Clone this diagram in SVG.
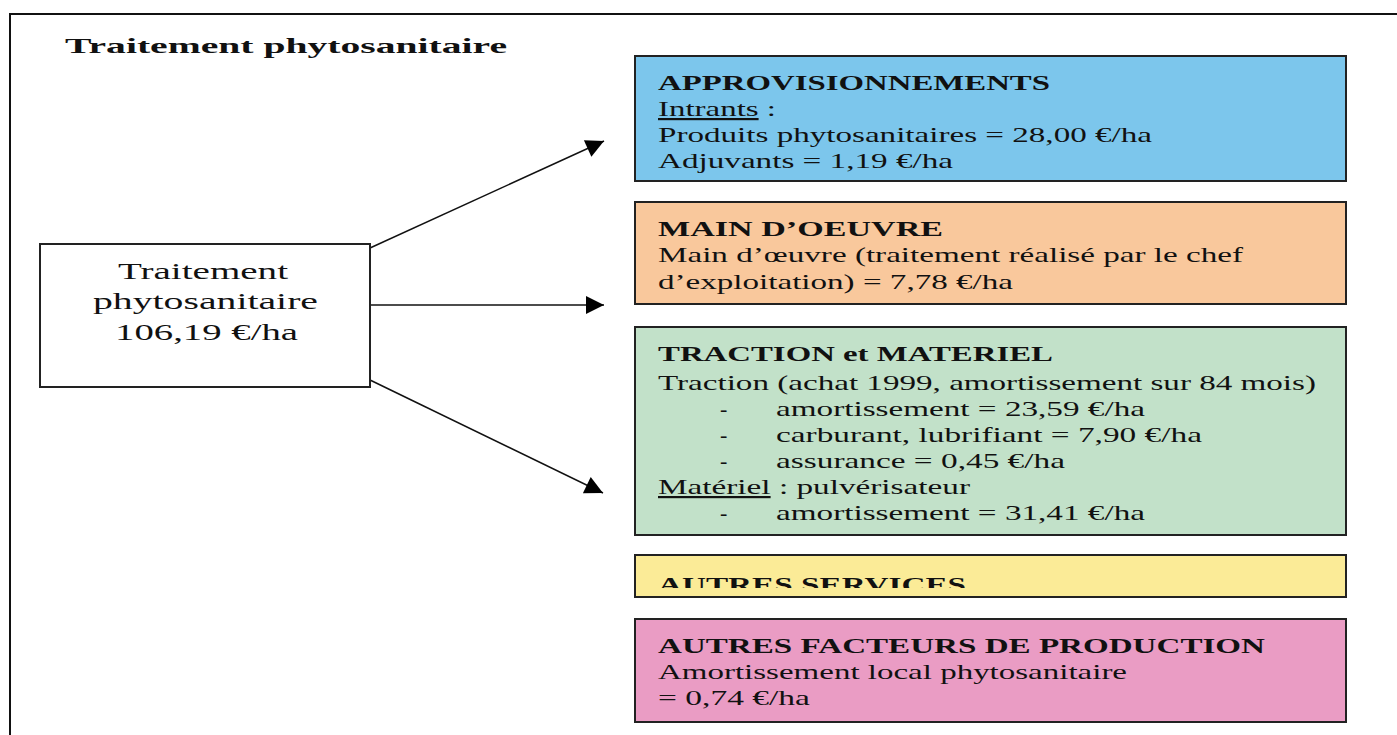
<svg xmlns="http://www.w3.org/2000/svg" width="1397" height="735" viewBox="0 0 1397 735">
<style>
  text { font-family: "Liberation Serif", "Times New Roman", serif; fill: #111; }
  .b { font-size: 22px; }
  .h { font-size: 22px; font-weight: bold; }
  .box { stroke: #222; stroke-width: 2; }
  .conn { stroke: #111; stroke-width: 1.5; fill: none; }
</style>
<defs>
  <marker id="arr" viewBox="0 0 10 10" refX="10" refY="5" markerWidth="24" markerHeight="18" markerUnits="userSpaceOnUse" orient="auto">
    <path d="M0,0 L10,5 L0,10 z" fill="#000"/>
  </marker>
  <clipPath id="clipY"><rect x="635" y="555" width="711" height="33"/></clipPath>
</defs>
<rect x="0" y="0" width="1397" height="735" fill="#fff"/>
<g id="frame">
  <line x1="9" y1="14" x2="1397" y2="14" stroke="#111" stroke-width="2"/>
  <line x1="10" y1="14" x2="10" y2="735" stroke="#111" stroke-width="2"/>
</g>
<g id="title">
  <text x="65" y="53" class="h" textLength="442" lengthAdjust="spacingAndGlyphs">Traitement phytosanitaire</text>
</g>
<g id="connectors">
  <line class="conn" x1="370" y1="248" x2="604" y2="141" marker-end="url(#arr)"/>
  <line class="conn" x1="370" y1="305" x2="604" y2="305" marker-end="url(#arr)"/>
  <line class="conn" x1="370" y1="380" x2="603" y2="493" marker-end="url(#arr)"/>
</g>
<g id="source">
  <rect class="box" x="40" y="244" width="330" height="143" fill="#fff"/>
  <text x="118" y="279" class="b" style="font-size:23px" textLength="170" lengthAdjust="spacingAndGlyphs">Traitement</text>
  <text x="93" y="309" class="b" style="font-size:23px" textLength="225" lengthAdjust="spacingAndGlyphs">phytosanitaire</text>
  <text x="115" y="340" class="b" style="font-size:23px" textLength="183" lengthAdjust="spacingAndGlyphs">106,19 €/ha</text>
</g>
<g id="approvisionnements">
  <rect class="box" x="635" y="56" width="711" height="125" fill="#7CC6EC"/>
  <text x="658" y="90" class="h" textLength="392" lengthAdjust="spacingAndGlyphs">APPROVISIONNEMENTS</text>
  <text x="658" y="116" class="b" textLength="118" lengthAdjust="spacingAndGlyphs"><tspan text-decoration="underline">Intrants</tspan> :</text>
  <text x="658" y="142" class="b" textLength="494" lengthAdjust="spacingAndGlyphs">Produits phytosanitaires = 28,00 €/ha</text>
  <text x="658" y="168" class="b" textLength="295" lengthAdjust="spacingAndGlyphs">Adjuvants = 1,19 €/ha</text>
</g>
<g id="main-oeuvre">
  <rect class="box" x="635" y="202" width="711" height="102" fill="#F9C89C"/>
  <text x="658" y="236" class="h" textLength="285" lengthAdjust="spacingAndGlyphs">MAIN D’OEUVRE</text>
  <text x="658" y="262" class="b" textLength="585" lengthAdjust="spacingAndGlyphs">Main d’œuvre (traitement réalisé par le chef</text>
  <text x="658" y="289" class="b" textLength="355" lengthAdjust="spacingAndGlyphs">d’exploitation) = 7,78 €/ha</text>
</g>
<g id="traction-materiel">
  <rect class="box" x="635" y="327" width="711" height="208" fill="#C2E1C9"/>
  <text x="658" y="361" class="h" textLength="395" lengthAdjust="spacingAndGlyphs">TRACTION et MATERIEL</text>
  <text x="658" y="390" class="b" textLength="658" lengthAdjust="spacingAndGlyphs">Traction (achat 1999, amortissement sur 84 mois)</text>
  <text x="720" y="416" class="b">-</text>
  <text x="776" y="416" class="b" textLength="369" lengthAdjust="spacingAndGlyphs">amortissement = 23,59 €/ha</text>
  <text x="720" y="442" class="b">-</text>
  <text x="776" y="442" class="b" textLength="426" lengthAdjust="spacingAndGlyphs">carburant, lubrifiant = 7,90 €/ha</text>
  <text x="720" y="468" class="b">-</text>
  <text x="776" y="468" class="b" textLength="289" lengthAdjust="spacingAndGlyphs">assurance = 0,45 €/ha</text>
  <text x="658" y="494" class="b" textLength="312" lengthAdjust="spacingAndGlyphs"><tspan text-decoration="underline">Matériel</tspan> : pulvérisateur</text>
  <text x="720" y="520" class="b">-</text>
  <text x="776" y="520" class="b" textLength="369" lengthAdjust="spacingAndGlyphs">amortissement = 31,41 €/ha</text>
</g>
<g id="autres-services">
  <rect class="box" x="635" y="555" width="711" height="42" fill="#FBEB97"/>
  <text x="658" y="592" class="h" clip-path="url(#clipY)" textLength="308" lengthAdjust="spacingAndGlyphs">AUTRES SERVICES</text>
</g>
<g id="autres-facteurs">
  <rect class="box" x="635" y="619" width="711" height="103" fill="#EA9CC4"/>
  <text x="658" y="653" class="h" textLength="607" lengthAdjust="spacingAndGlyphs">AUTRES FACTEURS DE PRODUCTION</text>
  <text x="658" y="679" class="b" textLength="469" lengthAdjust="spacingAndGlyphs">Amortissement local phytosanitaire</text>
  <text x="658" y="705" class="b" textLength="152" lengthAdjust="spacingAndGlyphs">= 0,74 €/ha</text>
</g>
</svg>
